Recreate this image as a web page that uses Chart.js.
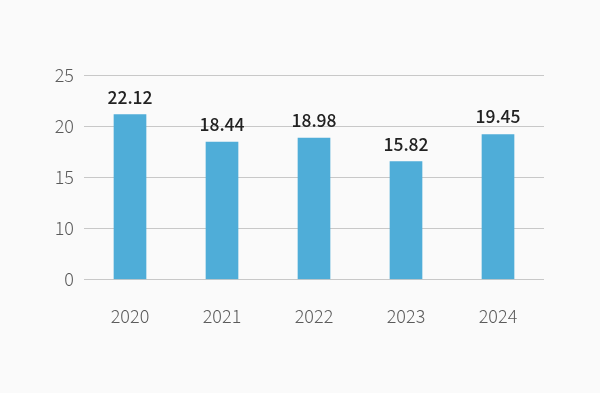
<!DOCTYPE html>
<html><head><meta charset="utf-8">
<script src="https://cdn.jsdelivr.net/npm/chart.js@4/dist/chart.umd.min.js"></script>
<style>html,body{margin:0;padding:0;background:#fafafa}#wrap{width:600px;height:393px}</style>
</head><body><div id="wrap"><canvas id="c" width="600" height="393"></canvas></div>
<script>
const categories = ["2020","2021","2022","2023","2024"];
const values = [22.12, 18.44, 18.98, 15.82, 19.45];
const yTickLabels = ["0","10","15","20","25"];
const yMax = 27.43;

const FONT = "'Noto Sans CJK KR','Noto Sans',sans-serif";

const valueLabels = {
  id: 'valueLabels',
  afterDatasetsDraw(chart) {
    const ctx = chart.ctx;
    const meta = chart.getDatasetMeta(0);
    ctx.save();
    ctx.font = "500 17.5px " + FONT;
    ctx.fillStyle = "#222";
    ctx.textAlign = "center";
    ctx.textBaseline = "alphabetic";
    meta.data.forEach((bar, i) => {
      ctx.fillText(values[i].toFixed(2), bar.x, bar.y - 11);
    });
    ctx.restore();
  }
};

new Chart(document.getElementById('c'), {
  type: 'bar',
  data: {
    labels: categories,
    datasets: [{ data: values, backgroundColor: '#4FADD8', barThickness: 32 }]
  },
  options: {
    responsive: false,
    animation: false,
    layout: { padding: { top: 75, left: 0, right: 56, bottom: 40 } },
    plugins: { legend: { display: false }, tooltip: { enabled: false } },
    scales: {
      x: {
        grid: { display: false, drawTicks: false },
        border: { display: false },
        ticks: { color: '#5a5a5a', font: { family: FONT, size: 18, weight: 300 }, padding: 26 },
        afterFit(s) { s.height = 393 - 40 - 279.5; }
      },
      y: {
        min: 0, max: yMax,
        afterBuildTicks(s) { s.ticks = yTickLabels.map((t, i) => ({ value: i * yMax / 4 })); },
        grid: { color: '#c8c8c8', drawTicks: false, lineWidth: 1 },
        border: { display: false },
        ticks: {
          color: '#5a5a5a', font: { family: FONT, size: 18, weight: 300 }, padding: 10,
          callback(v, i) { return yTickLabels[i]; }
        },
        afterFit(s) { s.width = 84; }
      }
    }
  },
  plugins: [valueLabels]
});
</script></body></html>
